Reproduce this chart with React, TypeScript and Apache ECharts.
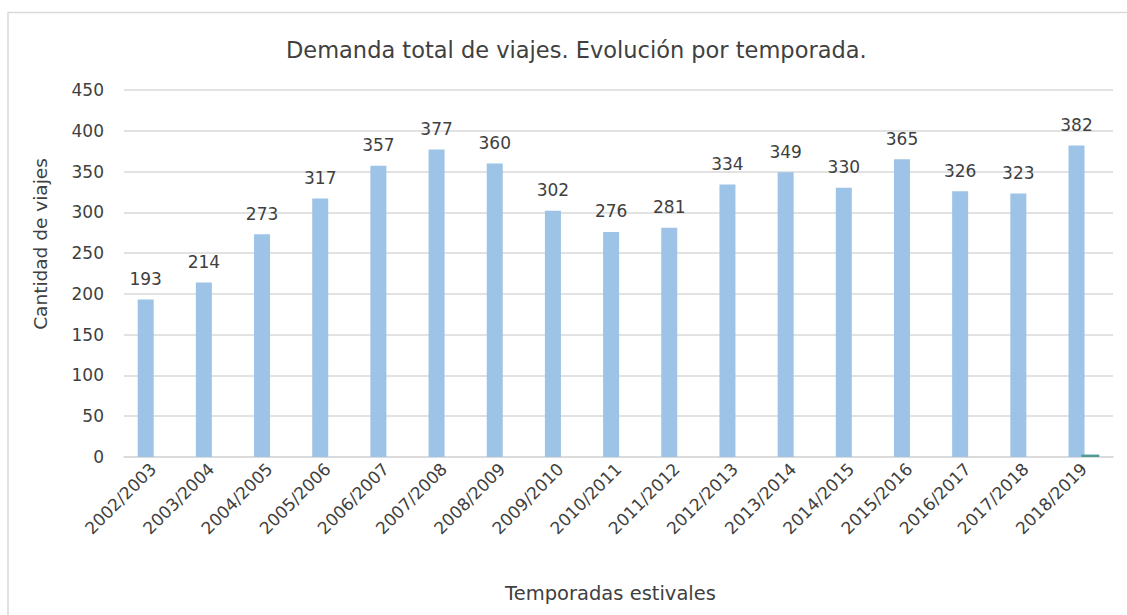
import React, { useEffect, useRef } from "react";
import * as echarts from "echarts";

const categories = [
  "2002/2003", "2003/2004", "2004/2005", "2005/2006", "2006/2007", "2007/2008",
  "2008/2009", "2009/2010", "2010/2011", "2011/2012", "2012/2013", "2013/2014",
  "2014/2015", "2015/2016", "2016/2017", "2017/2018", "2018/2019",
];
const demanda = [193, 214, 273, 317, 357, 377, 360, 302, 276, 281, 334, 349, 330, 365, 326, 323, 382];
const secundaria = [0, 0, 0, 0, 0, 0, 0, 0, 0, 0, 0, 0, 0, 0, 0, 0, 3];

const titleText = "Demanda total de viajes. Evolución por temporada.";
const yAxisName = "Cantidad de viajes";
const xAxisName = "Temporadas estivales";

export default function App() {
  const ref = useRef<HTMLDivElement>(null);
  useEffect(() => {
    document.body.style.margin = "0";
    const chart = echarts.init(ref.current!, null, { renderer: "svg" });
    const font = "DejaVu Sans, Arial, sans-serif";
    chart.setOption({
      animation: false,
      backgroundColor: "#ffffff",
      textStyle: { fontFamily: font },
      title: {
        text: titleText,
        left: 281,
        top: 33,
        textStyle: { fontSize: 22.5, fontWeight: "normal", color: "#404040", fontFamily: font },
      },
      graphic: [
        {
          type: "polyline",
          shape: { points: [[8, 620], [8, 12.5], [1130, 12.5]] },
          style: { stroke: "#d9d9d9", lineWidth: 1.5, fill: "none" },
          silent: true,
        },
        {
          type: "text",
          x: 40,
          y: 244,
          rotation: Math.PI / 2,
          style: {
            text: yAxisName,
            font: `18.5px ${font}`,
            fill: "#404040",
            align: "center",
            verticalAlign: "middle",
          },
          silent: true,
        },
      ],
      grid: { left: 124, right: 14, top: 90, bottom: 158 },
      xAxis: {
        type: "category",
        data: categories,
        name: xAxisName,
        nameLocation: "middle",
        nameGap: 126,
        nameTextStyle: { fontSize: 19.5, color: "#404040", padding: [0, 16, 0, 0] },
        axisLine: { lineStyle: { color: "#d9d9d9", width: 1.5 } },
        axisTick: { show: false },
        axisLabel: { rotate: 45, fontSize: 17, color: "#404040", margin: 9, interval: 0 },
      },
      yAxis: {
        type: "value",
        min: 0,
        max: 450,
        interval: 50,
        axisLine: { show: false },
        axisTick: { show: false },
        axisLabel: { fontSize: 17, color: "#404040", margin: 20 },
        splitLine: { lineStyle: { color: "#d9d9d9", width: 1.5 } },
      },
      series: [
        {
          type: "bar",
          data: demanda,
          barWidth: 16,
          barGap: "-20%",
          itemStyle: { color: "#9dc3e6" },
          label: { show: true, position: "top", distance: 12, fontSize: 17, color: "#404040" },
        },
        {
          type: "bar",
          data: secundaria,
          barWidth: 18,
          itemStyle: { color: "#4f9c98" },
        },
      ],
    });
    return () => chart.dispose();
  }, []);
  return <div ref={ref} style={{ width: 1127, height: 615 }} />;
}
